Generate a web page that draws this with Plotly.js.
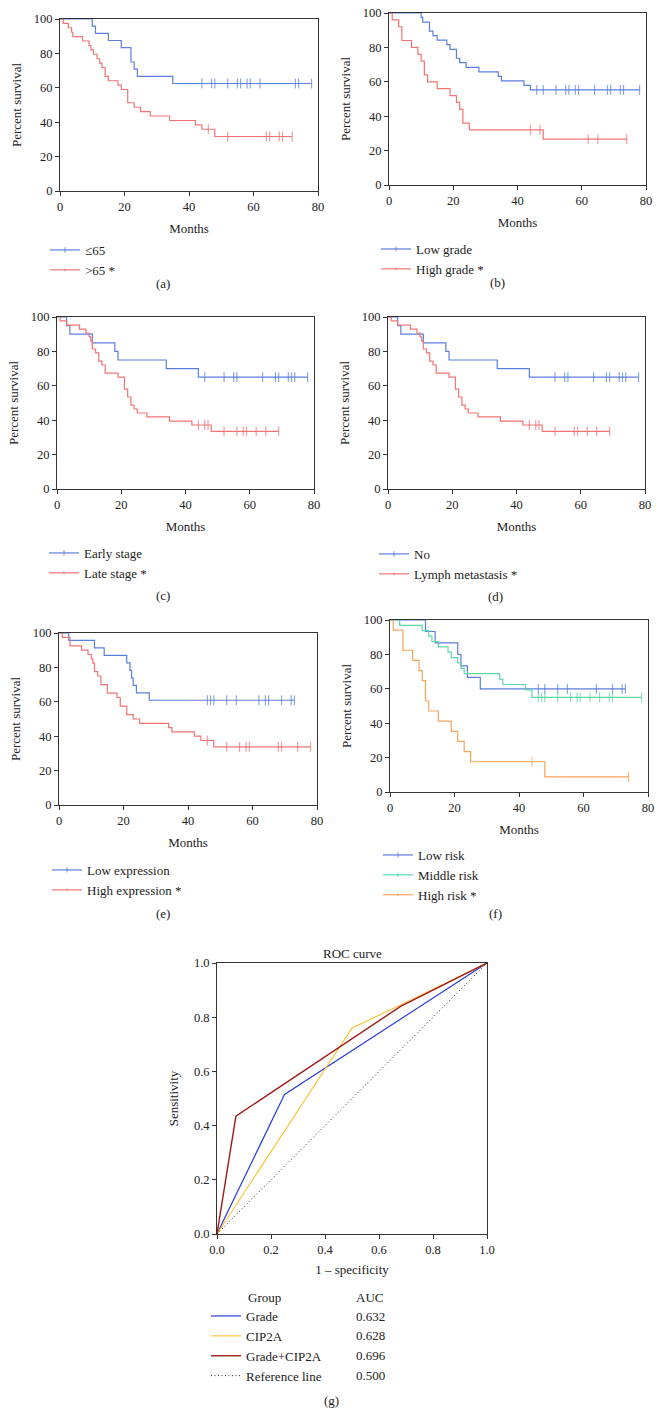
<!DOCTYPE html>
<html><head><meta charset="utf-8">
<script src="https://cdn.plot.ly/plotly-3.0.1.min.js"></script>
<style>html,body{margin:0;padding:0;background:#fff;}#chart{width:662px;height:1428px;}</style>
</head><body><div id="chart"></div>
<script>
// ---------- DATA ----------
// (a) Age
const a_le65_ev = [10, 11, 15, 19, 22, 23, 24, 35];
const a_le65_sv = [95.8, 91.7, 87.5, 83.3, 75.0, 70.8, 66.7, 62.5];
const a_le65_cens = [44, 47, 48, 52, 55, 56, 58, 59, 62, 73, 74, 78];
const a_gt65_ev = [1, 2.6, 3.6, 4, 7, 9, 9.6, 10.4, 11.5, 12.3, 13, 14, 15, 18, 19, 21, 23, 25, 28, 34, 42, 44, 48];
const a_gt65_sv = [97.4, 94.9, 92.3, 89.7, 87.2, 84.6, 82.1, 79.5, 76.9, 74.4, 71.8, 66.7, 64.1, 61.5, 59.0, 51.3, 48.7, 46.2, 43.6, 41.0, 38.5, 35.9, 31.7];
const a_gt65_cens = [46, 52, 64, 65, 68, 69, 72];
// (b) Grade
const b_low_ev = [10, 10.5, 12.6, 13.7, 15, 18, 19, 21, 22, 24, 28, 34, 35, 42, 44];
const b_low_sv = [97.4, 94.7, 89.5, 86.8, 84.2, 81.6, 78.9, 73.7, 71.1, 68.4, 65.8, 63.2, 60.5, 57.9, 55.3];
const b_low_cens = [46, 48, 52, 55, 56, 58, 59, 64, 68, 69, 72, 73, 78];
const b_high_ev = [1, 3, 4, 7, 9, 10, 11, 12, 15, 19, 21, 22, 23, 25, 48];
const b_high_sv = [96, 92, 84, 80, 76, 72, 64, 60, 56, 52, 48, 44, 36, 32, 26.7];
const b_high_cens = [44, 47, 62, 65, 74];
// (c) Stage
const c_early_ev = [3, 4, 11, 18, 19, 34, 44];
const c_early_sv = [95, 90, 85, 80, 75, 70, 65];
const c_early_cens = [46, 52, 55, 56, 64, 68, 69, 72, 73, 74, 78];
const c_late_ev = [1, 3, 7, 9, 10, 10.5, 11, 12, 13, 14, 15, 19, 21, 22, 23, 24, 25, 28, 35, 42, 48];
const c_late_sv = [97.7, 95.3, 93.0, 90.7, 88.4, 86.0, 81.4, 79.1, 74.4, 72.1, 67.4, 65.1, 58.1, 53.5, 48.8, 46.5, 44.2, 41.9, 39.5, 37.2, 33.5];
const c_late_cens = [44, 46, 47, 52, 56, 58, 59, 62, 65, 69];
// (d) Lymph metastasis
const d_no_ev = [3, 4, 11, 18, 19, 34, 44];
const d_no_sv = [95, 90, 85, 80, 75, 70, 65];
const d_no_cens = [52, 55, 56, 64, 68, 69, 72, 73, 74, 78];
const d_yes_ev = [1, 3, 7, 9, 10, 10.5, 11, 12, 13, 14, 15, 19, 21, 22, 23, 24, 25, 28, 35, 42, 48];
const d_yes_sv = [97.7, 95.3, 93.0, 90.7, 88.4, 86.0, 81.4, 79.1, 74.4, 72.1, 67.4, 65.1, 58.1, 53.5, 48.8, 46.5, 44.2, 41.9, 39.5, 37.2, 33.5];
const d_yes_cens = [44, 46, 47, 52, 58, 59, 62, 65, 69];
// (e) CIP2A expression
const e_low_ev = [3, 11, 14, 21, 22, 22.5, 23, 24, 28];
const e_low_sv = [95.7, 91.3, 87.0, 82.6, 78.3, 73.9, 69.6, 65.2, 60.9];
const e_low_cens = [46, 47, 48, 52, 55, 62, 64, 65, 69, 72, 73];
const e_high_ev = [1, 3.4, 7, 9, 10, 10.5, 11, 12, 13, 15, 18, 19, 21, 23, 25, 34, 35, 42, 44, 48];
const e_high_sv = [97.5, 92.5, 90.0, 87.5, 85.0, 82.5, 77.5, 75.0, 70.0, 65.0, 62.5, 57.5, 52.5, 50.0, 47.5, 45.0, 42.5, 40.0, 37.5, 33.8];
const e_high_cens = [46, 52, 56, 58, 59, 68, 69, 74, 78];
// (f) Risk groups
const f_low_ev = [11, 14, 21, 22, 24, 28];
const f_low_sv = [93.3, 86.7, 80.0, 73.3, 66.7, 60.0];
const f_low_cens = [46, 48, 52, 55, 64, 69, 72, 73];
const f_mid_ev = [3, 10, 12, 13, 15, 18, 19, 21, 22, 23, 34, 35, 42, 44];
const f_mid_sv = [96.9, 93.8, 90.6, 87.5, 84.4, 81.3, 78.1, 75.0, 71.9, 68.8, 65.6, 62.5, 59.4, 55.0];
const f_mid_cens = [46, 47, 48, 52, 56, 58, 59, 62, 65, 68, 69, 78];
const f_high_ev = [1, 4, 7, 9, 10, 11, 12, 15, 19, 21, 23, 25, 48];
const f_high_sv = [94.1, 82.4, 76.5, 70.6, 64.7, 52.9, 47.1, 41.2, 35.3, 29.4, 23.5, 17.6, 8.8];
const f_high_cens = [44, 74];
// (g) ROC
const roc_groups = ["Grade", "CIP2A", "Grade+CIP2A", "Reference line"];
const roc_auc = ["0.632", "0.628", "0.696", "0.500"];
const roc_grade_fpr = [0, 0.25, 1];
const roc_grade_tpr = [0, 0.515, 1];
const roc_cip_fpr = [0, 0.5, 0.68, 1];
const roc_cip_tpr = [0, 0.76, 0.845, 1];
const roc_comb_fpr = [0, 0.07, 0.68, 1];
const roc_comb_tpr = [0, 0.435, 0.84, 1];
const roc_ref_fpr = [0, 1];
const roc_ref_tpr = [0, 1];

const km_ticks = [0, 20, 40, 60, 80];
const surv_ticks = [0, 20, 40, 60, 80, 100];
const roc_ticks = [0, 0.2, 0.4, 0.6, 0.8, 1.0];

// ---------- STYLE ----------
const FONT = "Liberation Serif, Times New Roman, serif";
const TXT = '#222';
const TFS = 12.5, LFS = 13;
const BLUE = '#5b7fdc', RED = '#f07474', GREEN = '#5cd6a4', ORANGE = '#f5a45c';
const R_BLUE = '#2b3fd8', R_YEL = '#f7c43e', R_RED = '#9c1a1a';
const W = 662, H = 1428;
const fx = p => p / W, fy = p => 1 - p / H;

function kmTrace(ev, sv, cens, name, color, n, legend) {
  const pts = ev.map((t, k) => ({t: t, s: sv[k], c: false}))
    .concat(cens.map(t => ({t: t, c: true})));
  pts.sort((p, q) => (p.t - q.t) || (p.c - q.c));
  let cur = 100;
  const xs = [0], ys = [100], sz = [0];
  pts.forEach(p => {
    if (!p.c) cur = p.s;
    xs.push(p.t); ys.push(cur); sz.push(p.c ? 7 : 0);
  });
  return {
    type: 'scatter', mode: 'lines+markers', name: name, x: xs, y: ys,
    xaxis: 'x' + (n === 1 ? '' : n), yaxis: 'y' + (n === 1 ? '' : n),
    legend: legend, cliponaxis: false,
    line: {shape: 'hv', color: color, width: 1.2},
    marker: {symbol: 'line-ns', size: sz, color: color, line: {color: color, width: 1.2}},
    hoverinfo: 'skip'
  };
}

const traces = [
  kmTrace(a_le65_ev, a_le65_sv, a_le65_cens, '≤65', BLUE, 1, 'legend'),
  kmTrace(a_gt65_ev, a_gt65_sv, a_gt65_cens, '>65 *', RED, 1, 'legend'),
  kmTrace(b_low_ev, b_low_sv, b_low_cens, 'Low grade', BLUE, 2, 'legend2'),
  kmTrace(b_high_ev, b_high_sv, b_high_cens, 'High grade *', RED, 2, 'legend2'),
  kmTrace(c_early_ev, c_early_sv, c_early_cens, 'Early stage', BLUE, 3, 'legend3'),
  kmTrace(c_late_ev, c_late_sv, c_late_cens, 'Late stage *', RED, 3, 'legend3'),
  kmTrace(d_no_ev, d_no_sv, d_no_cens, 'No', BLUE, 4, 'legend4'),
  kmTrace(d_yes_ev, d_yes_sv, d_yes_cens, 'Lymph metastasis *', RED, 4, 'legend4'),
  kmTrace(e_low_ev, e_low_sv, e_low_cens, 'Low expression', BLUE, 5, 'legend5'),
  kmTrace(e_high_ev, e_high_sv, e_high_cens, 'High expression *', RED, 5, 'legend5'),
  kmTrace(f_low_ev, f_low_sv, f_low_cens, 'Low risk', BLUE, 6, 'legend6'),
  kmTrace(f_mid_ev, f_mid_sv, f_mid_cens, 'Middle risk', GREEN, 6, 'legend6'),
  kmTrace(f_high_ev, f_high_sv, f_high_cens, 'High risk *', ORANGE, 6, 'legend6')
];
const rocData = [
  [roc_grade_fpr, roc_grade_tpr, R_BLUE, 'solid', 1.2],
  [roc_cip_fpr, roc_cip_tpr, R_YEL, 'solid', 1.2],
  [roc_comb_fpr, roc_comb_tpr, R_RED, 'solid', 1.4],
  [roc_ref_fpr, roc_ref_tpr, '#222', '1px,2.5px', 1]
];
rocData.forEach((r, i) => traces.push({
  type: 'scatter', mode: 'lines', name: roc_groups[i], x: r[0], y: r[1],
  xaxis: 'x7', yaxis: 'y7', legend: 'legend7', cliponaxis: false,
  line: {color: r[2], dash: r[3], width: r[4]}, hoverinfo: 'skip'
}));

// ---------- LAYOUT ----------
const panels = [
  {x: [60, 318], y: [19, 191], lab: '(a)', lx: 163, ly: 284, leg: [45, 235]},
  {x: [389, 646], y: [13, 185], lab: '(b)', lx: 498, ly: 283, leg: [376, 234]},
  {x: [57, 314], y: [317, 489], lab: '(c)', lx: 163, ly: 595, leg: [44, 538]},
  {x: [388, 645], y: [317, 489], lab: '(d)', lx: 495, ly: 596, leg: [374, 539]},
  {x: [59, 317], y: [633, 805], lab: '(e)', lx: 163, ly: 914, leg: [47, 855]},
  {x: [390, 648], y: [620, 792], lab: '(f)', lx: 495, ly: 914, leg: [378, 840]},
  {x: [217, 487], y: [963, 1234], lab: '(g)', lx: 331, ly: 1400, leg: [206, 1301]}
];
const layout = {
  width: W, height: H, margin: {l: 0, r: 0, t: 0, b: 0},
  paper_bgcolor: '#fff', plot_bgcolor: '#fff', showlegend: true,
  font: {family: FONT, size: 12, color: TXT},
  annotations: [], hovermode: false
};
function axisBase() {
  return {
    showline: true, linecolor: '#333', linewidth: 1, mirror: true,
    ticks: 'outside', ticklen: 4, tickwidth: 1, tickcolor: '#333',
    showgrid: false, zeroline: false, fixedrange: true,
    tickfont: {family: FONT, size: TFS, color: TXT}
  };
}
panels.forEach((p, i) => {
  const n = i + 1, sfx = n === 1 ? '' : n;
  const isRoc = n === 7;
  const xa = axisBase(), ya = axisBase();
  xa.domain = [fx(p.x[0]), fx(p.x[1])];
  ya.domain = [fy(p.y[1]), fy(p.y[0])];
  xa.anchor = 'y' + sfx; ya.anchor = 'x' + sfx;
  if (isRoc) {
    xa.range = [0, 1]; ya.range = [0, 1];
    xa.tickvals = roc_ticks; ya.tickvals = roc_ticks;
    xa.tickformat = '.1f'; ya.tickformat = '.1f';
    xa.title = {text: '1 – specificity', font: {family: FONT, size: LFS, color: TXT}, standoff: 8};
    ya.title = {text: 'Sensitivity', font: {family: FONT, size: LFS, color: TXT}, standoff: 12};
  } else {
    xa.range = [0, 80]; ya.range = [0, 100];
    xa.tickvals = km_ticks; ya.tickvals = surv_ticks;
    xa.title = {text: 'Months', font: {family: FONT, size: LFS, color: TXT}, standoff: 10};
    ya.title = {text: 'Percent survival', font: {family: FONT, size: LFS, color: TXT}, standoff: 9};
  }
  layout['xaxis' + sfx] = xa;
  layout['yaxis' + sfx] = ya;
  layout['legend' + sfx] = {
    x: fx(p.leg[0]), y: fy(p.leg[1]), xanchor: 'left', yanchor: 'top',
    bgcolor: 'rgba(0,0,0,0)', borderwidth: 0, tracegroupgap: 0,
    traceorder: 'normal', font: {family: FONT, size: LFS, color: TXT},
    itemclick: false, itemdoubleclick: false
  };
  layout.annotations.push({
    text: p.lab, xref: 'paper', yref: 'paper', x: fx(p.lx), y: fy(p.ly),
    xanchor: 'center', yanchor: 'middle', showarrow: false,
    font: {family: FONT, size: LFS, color: TXT}
  });
});
// ROC title and AUC table column
const annFont = {family: FONT, size: LFS, color: TXT};
layout.annotations.push({text: 'ROC curve', xref: 'paper', yref: 'paper', x: fx(352), y: fy(953),
  xanchor: 'center', yanchor: 'middle', showarrow: false, font: annFont});
layout.annotations.push({text: 'Group', xref: 'paper', yref: 'paper', x: fx(246), y: fy(1297),
  xanchor: 'left', yanchor: 'middle', showarrow: false, font: annFont});
layout.annotations.push({text: 'AUC', xref: 'paper', yref: 'paper', x: fx(354), y: fy(1297),
  xanchor: 'left', yanchor: 'middle', showarrow: false, font: annFont});
roc_auc.forEach((v, i) => layout.annotations.push({
  text: v, xref: 'paper', yref: 'paper', x: fx(354), y: fy(1316 + i * 19.7),
  xanchor: 'left', yanchor: 'middle', showarrow: false, font: annFont
}));

Plotly.newPlot('chart', traces, layout, {staticPlot: true, displayModeBar: false});
</script>
</body></html>
